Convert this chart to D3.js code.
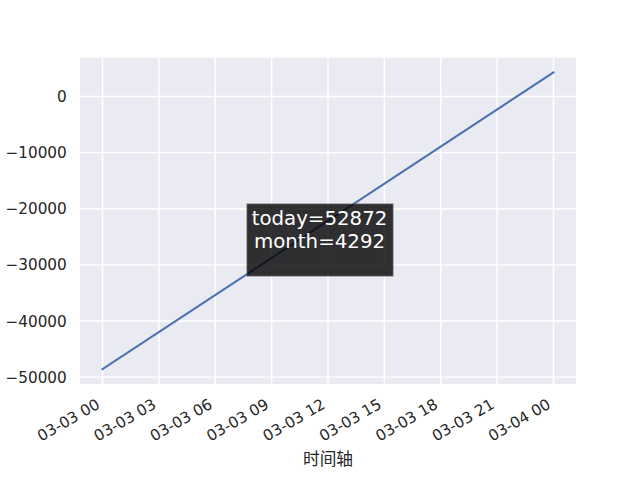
<!DOCTYPE html>
<html><head><meta charset="utf-8">
<script src="https://cdn.jsdelivr.net/npm/d3@7"></script>
<style>body{margin:0;background:#fff}svg{display:block}</style>
</head><body>
<script>
// ---- data ----
const times = ["2021-03-03T00:00:00Z", "2021-03-04T00:00:00Z"];
const values = [-48580, 4292];
const yTicks = [0, -10000, -20000, -30000, -40000, -50000];
const annotationLines = ["today=52872", "month=4292"];
const xLabel = "时间轴";

const W = 640, H = 480;
const m = {left: 80, right: 576, top: 57.6, bottom: 384};
const svg = d3.select("body").append("svg").attr("width", W).attr("height", H);
const font = "'DejaVu Sans', sans-serif";

const dates = times.map(t => new Date(t));
const data = dates.map((d, i) => ({t: d, v: values[i]}));

const tExt = d3.extent(dates), tSpan = tExt[1] - tExt[0];
const x = d3.scaleUtc()
  .domain([new Date(+tExt[0] - 0.05 * tSpan), new Date(+tExt[1] + 0.05 * tSpan)])
  .range([m.left, m.right]);
const vExt = d3.extent(values), vSpan = vExt[1] - vExt[0];
const y = d3.scaleLinear()
  .domain([vExt[0] - 0.05 * vSpan, vExt[1] + 0.05 * vSpan])
  .range([m.bottom, m.top]);

svg.append("rect").attr("x", m.left).attr("y", m.top)
  .attr("width", m.right - m.left).attr("height", m.bottom - m.top)
  .attr("fill", "#EAEAF2");

const xTickVals = d3.utcHour.every(3).range(tExt[0], new Date(+tExt[1] + 1));
const fmt = d3.utcFormat("%m-%d %H");

const g = svg.append("g");
// grid
g.selectAll("line.xg").data(xTickVals).join("line")
  .attr("x1", d => x(d)).attr("x2", d => x(d))
  .attr("y1", m.top).attr("y2", m.bottom)
  .attr("stroke", "#fff").attr("stroke-width", 1.4);
g.selectAll("line.yg").data(yTicks).join("line")
  .attr("x1", m.left).attr("x2", m.right)
  .attr("y1", d => y(d)).attr("y2", d => y(d))
  .attr("stroke", "#fff").attr("stroke-width", 1.4);

// line
svg.append("path").datum(data)
  .attr("d", d3.line().x(d => x(d.t)).y(d => y(d.v)))
  .attr("fill", "none").attr("stroke", "#4C72B0").attr("stroke-width", 2.1)
  .attr("stroke-linecap", "square");

// y tick labels
const fs = 15.28;
svg.selectAll("text.yt").data(yTicks).join("text")
  .attr("x", m.left - 13.2).attr("y", d => y(d))
  .attr("dy", "0.36em")
  .attr("text-anchor", "end")
  .attr("font-family", font).attr("font-size", fs).attr("fill", "#262626")
  .text(d => d3.format("d")(d).replace("-", "\u2212"));

// x tick labels rotated 30
const h = fs * 1.0;
const y0 = m.bottom + 13.2 + 0.866 * h;
svg.selectAll("text.xt").data(xTickVals).join("text")
  .attr("transform", d => `translate(${x(d)},${y0}) rotate(-30)`)
  .attr("y", -0.23 * fs)
  .attr("text-anchor", "end")
  .attr("font-family", font).attr("font-size", fs).attr("fill", "#262626")
  .text(d => fmt(d));

// x label
svg.append("text").attr("x", (m.left + m.right) / 2).attr("y", 465)
  .attr("text-anchor", "middle")
  .attr("font-family", "'Noto Sans CJK SC', sans-serif").attr("font-size", 16.7)
  .attr("fill", "#262626").text(xLabel);

// annotation box
const bx = 247, by = 204, bw = 146, bh = 72;
svg.append("rect").attr("x", bx).attr("y", by).attr("width", bw).attr("height", bh)
  .attr("fill", "#000").attr("fill-opacity", 0.8)
  .attr("stroke", "#555").attr("stroke-opacity", 0.8).attr("stroke-width", 1);
svg.selectAll("text.ann").data(annotationLines).join("text")
  .attr("x", bx + bw / 2 - 0.5).attr("y", (d, i) => 225 + i * 22.5)
  .attr("text-anchor", "middle")
  .attr("font-family", font).attr("font-size", 19.8).attr("fill", "#fff")
  .text(d => d);
</script>
</body></html>
